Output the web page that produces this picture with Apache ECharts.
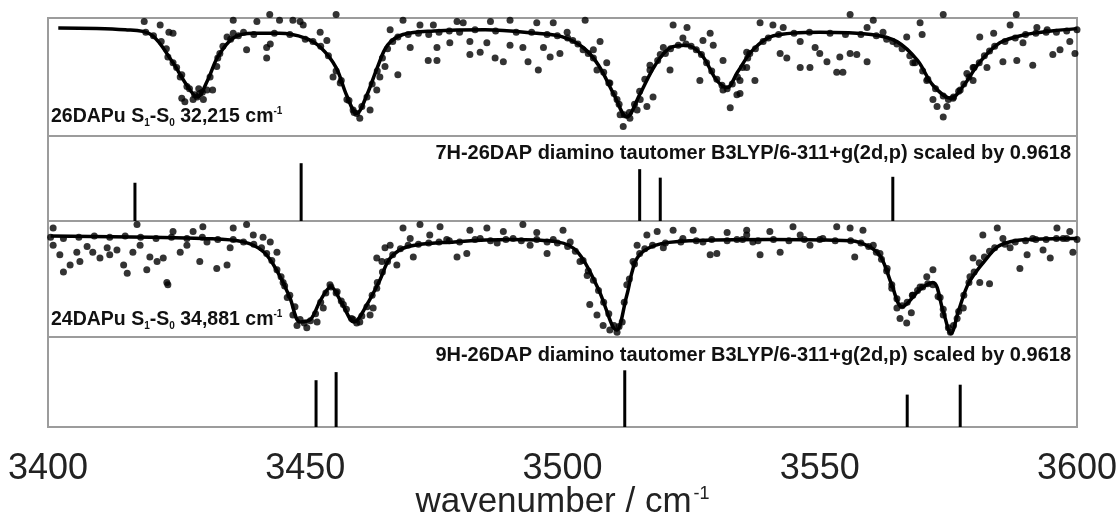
<!DOCTYPE html>
<html>
<head>
<meta charset="utf-8">
<script src="https://cdn.jsdelivr.net/npm/echarts@6/dist/echarts.min.js"></script>
<style>
  html, body { margin: 0; padding: 0; background: #fff; }
  #chart { width: 1117px; height: 519px; }
</style>
</head>
<body>
<div id="chart"></div>
<script>
// Shared wavenumber axis
const xTicks = [3400, 3450, 3500, 3550, 3600];

// 26DAPu spectrum: measured points [wavenumber, relative signal]
const dap26Points = [
  [3418.7,0.97],[3421.8,0.94],[3423.5,0.88],[3424.3,0.87],[3423.3,0.67],[3424.3,0.62],[3425.7,0.50],[3427,0.42],
  [3426,0.32],[3426.6,0.29],[3428.2,0.31],[3429.5,0.36],[3430.9,0.39],[3432,0.39],[3430.2,0.31],[3429.3,0.40],
  [3432.8,0.59],[3433.4,0.70],[3434.8,0.84],[3436,0.87],[3436,0.98],[3438.6,0.73],[3440.6,0.97],[3442.5,0.75],
  [3443.2,0.78],[3442.5,0.66],[3443.1,1.03],[3445,0.98],[3447.6,0.98],[3449,0.97],[3449.6,0.94],[3452.9,0.88],
  [3454.2,0.81],[3455.4,0.50],[3456.8,0.45],[3458.1,0.31],[3459.3,0.22],[3460.6,0.15],[3460,0.19],[3456,1.03],
  [3462.6,0.22],[3463.9,0.39],[3464.5,0.50],[3465.5,0.59],[3468,0.52],[3466.5,0.90],[3469,0.98],[3470.4,0.75],
  [3472.3,0.94],[3473.9,0.64],[3475.6,0.64],[3474.9,0.94],[3475.6,0.75],[3478.1,0.79],[3479.5,0.97],[3480.7,0.96],
  [3482,0.69],[3482,0.80],[3484,0.71],[3485.3,0.79],[3486,0.97],[3486.9,0.66],[3488.5,0.63],[3489.8,0.77],
  [3489.8,0.98],[3492.3,0.75],[3493.3,0.63],[3495,0.96],[3495.3,0.56],[3496.3,0.75],[3497.6,0.67],[3498.2,0.96],
  [3499.5,0.70],[3500.9,0.88],[3504.4,0.98],[3502,0.81],[3504,0.73],[3506,0.73],[3507.3,0.80],[3506.7,0.56],
  [3508.6,0.62],[3509.2,0.45],[3510.6,0.31],[3511.2,0.18],[3511.8,0.08],[3513.1,0.15],[3514.5,0.22],[3515.1,0.31],
  [3516.4,0.25],[3517.6,0.33],[3517,0.60],[3519,0.69],[3519.6,0.75],[3520.9,0.56],[3521.5,0.94],[3524.2,0.92],
  [3523.4,0.83],[3526.7,0.47],[3527.3,0.81],[3528.7,0.87],[3529.3,0.77],[3531.2,0.64],[3531.2,0.39],[3532.6,0.24],
  [3533.9,0.35],[3534.5,0.47],[3535.8,0.71],[3534.5,0.36],[3535.8,0.58],[3537.4,0.47],[3536.4,0.70],[3538.4,0.96],
  [3540.9,0.94],[3542.9,0.92],[3542.3,0.70],[3543.6,0.66],[3546.2,0.58],[3546.2,0.80],[3548.1,0.58],[3549.1,0.75],
  [3550,0.70],[3551.4,0.63],[3553.3,0.54],[3553.9,0.67],[3554.5,0.54],[3555.9,0.70],[3557.2,0.69],[3559.2,0.63],
  [3559.2,0.92],[3560.4,0.98],[3562.3,0.88],[3564.2,0.80],[3566.9,0.84],[3569.5,0.96],[3569.9,0.86],[3568.1,0.62],
  [3570.8,0.47],[3572,0.31],[3572.8,0.25],[3574,0.16],[3574.7,0.25],[3575.9,0.32],[3577.3,0.39],[3578.6,0.53],
  [3579.8,0.58],[3579.8,0.47],[3581.1,0.84],[3582.5,0.58],[3583.8,0.87],[3585.6,0.63],[3587,0.94],[3588.3,0.64],
  [3589.5,0.79],[3591.4,0.60],[3592.2,0.92],[3594.2,0.90],[3595.3,0.69],[3596.7,0.73],[3598.6,0.80],[3599.6,0.70],
  [3588.2,1.03],[3574,1.03],[3555.9,1.03],
  [3419,0.88],[3420.5,0.85],[3422,0.80],[3423,0.74],[3425,0.58],[3426,0.52],[3427.5,0.40],[3428.5,0.35],
  [3429,0.33],[3430,0.37],[3431.5,0.50],[3433,0.66],[3434,0.76],[3435.5,0.82],[3437,0.85],[3438,0.88],
  [3440,0.86],[3444,0.87],[3447,0.86],[3450,0.82],[3451.5,0.80],[3453,0.76],[3454.5,0.68],[3456,0.55],
  [3457,0.47],[3458.5,0.30],[3459.5,0.20],[3461,0.25],[3462,0.33],[3463,0.44],[3464,0.55],[3465,0.66],
  [3466,0.74],[3467,0.80],[3468,0.84],[3470,0.86],[3472,0.87],[3474,0.86],[3476,0.88],[3478,0.89],
  [3480,0.88],[3483,0.90],[3487,0.89],[3491,0.88],[3494,0.88],[3497,0.86],[3499,0.85],[3501,0.83],
  [3503,0.78],[3505,0.70],[3506,0.66],[3508,0.54],[3509,0.45],[3510,0.36],[3511,0.27],[3512,0.18],
  [3513,0.20],[3514,0.27],[3515,0.38],[3516,0.48],[3517,0.56],[3518.5,0.64],[3520,0.70],[3521,0.74],
  [3522.5,0.77],[3524,0.78],[3525,0.76],[3526,0.73],[3527,0.69],[3528,0.62],[3529,0.55],[3530,0.48],
  [3531,0.43],[3532,0.40],[3533,0.44],[3534,0.50],[3535,0.58],[3536,0.66],[3537.5,0.74],[3539,0.80],
  [3540,0.83],[3542,0.86],[3545,0.87],[3548,0.88],[3552,0.87],[3555,0.86],[3558,0.86],[3561,0.85],
  [3563,0.82],[3565,0.78],[3566,0.74],[3567.5,0.68],[3568.5,0.62],[3570,0.55],[3571,0.48],[3572.5,0.40],
  [3574,0.34],[3575,0.31],[3576,0.33],[3577,0.38],[3578,0.44],[3579,0.50],[3580,0.58],[3581,0.62],
  [3582,0.68],[3583,0.72],[3584,0.76],[3586,0.80],[3588,0.83],[3590,0.86],[3592,0.87],[3594,0.88],
  [3596,0.88],[3598,0.89],[3600,0.90]
];

// 26DAPu fitted profile
const dap26Fit = [
  [3402,0.915],[3415,0.90],[3420,0.86],[3424,0.64],[3427,0.43],[3429,0.33],[3431,0.47],[3433,0.67],
  [3436,0.83],[3440,0.87],[3445,0.87],[3450,0.83],[3453,0.75],[3456,0.58],[3458,0.35],[3460,0.19],
  [3462,0.35],[3464,0.58],[3466,0.77],[3469,0.86],[3475,0.89],[3485,0.90],[3495,0.87],[3500,0.84],
  [3504,0.75],[3507,0.60],[3510,0.35],[3512.5,0.16],[3515,0.35],[3518,0.60],[3521,0.75],[3524,0.77],
  [3527,0.69],[3530,0.47],[3532,0.41],[3534,0.54],[3537,0.73],[3541,0.85],[3550,0.88],[3560,0.86],
  [3565,0.80],[3569,0.64],[3572,0.43],[3575.5,0.32],[3578,0.43],[3581,0.62],[3585,0.79],[3590,0.86],
  [3595,0.89],[3600,0.91]
];

// 7H-26DAP computed lines [wavenumber, intensity]
const h7Sticks = [[3416.9,0.45],[3449.2,0.68],[3515.0,0.61],[3519.0,0.51],[3564.2,0.52]];

// 24DAPu spectrum: measured points [wavenumber, relative signal]
const dap24Points = [
  [3401,0.94],[3401,0.79],[3402.3,0.71],[3403,0.56],[3404.3,0.62],[3405.6,0.73],[3406.2,0.65],[3407.6,0.78],
  [3408.7,0.73],[3410.1,0.68],[3411.5,0.77],[3412,0.71],[3413.4,0.75],[3414.7,0.62],[3415.4,0.55],[3416.5,0.73],
  [3417.3,0.97],[3417.9,0.79],[3419.2,0.58],[3419.8,0.69],[3421.2,0.65],[3422.4,0.68],[3423.1,0.47],[3423.3,0.45],
  [3424.3,0.91],[3425.7,0.73],[3427,0.79],[3428.2,0.91],[3429.5,0.65],[3430.9,0.82],[3430.1,0.95],[3432.8,0.59],
  [3434.8,0.62],[3435.4,0.77],[3436,0.94],[3438.6,0.97],[3439.9,0.88],[3441.8,0.86],[3443.2,0.82],[3444.5,0.73],
  [3445.7,0.47],[3446.5,0.34],[3447.6,0.19],[3448.4,0.10],[3450.3,0.08],[3452.3,0.13],[3453.5,0.25],[3454.8,0.45],
  [3456.2,0.39],[3457.4,0.28],[3459.3,0.15],[3460.6,0.13],[3462.6,0.19],[3463.9,0.68],
  [3463.2,0.25],[3463.9,0.42],[3464.9,0.65],[3465.5,0.77],[3466.5,0.79],[3467.8,0.62],[3469,0.94],[3470.4,0.85],
  [3471,0.69],[3472.3,0.97],[3474.2,0.88],[3476.2,0.95],[3477.5,0.84],[3479.5,0.69],[3481.4,0.72],[3482,0.92],
  [3484,0.85],[3485.3,0.94],[3487.3,0.81],[3488.5,0.91],[3490.4,0.85],[3492.3,0.97],[3493.7,0.79],[3495,0.90],
  [3497,0.72],[3498.2,0.84],[3500.1,0.92],[3501.5,0.82],[3503.4,0.65],[3504.8,0.53],[3505.3,0.28],[3506.7,0.19],
  [3507.9,0.10],[3509.2,0.06],[3510.6,0.04],[3511.6,0.13],[3512.5,0.45],[3513.7,0.65],[3514.5,0.79],[3516.4,0.88],
  [3518.4,0.91],[3519.6,0.77],[3521.5,0.92],[3523.4,0.85],[3525.4,0.92],[3527.3,0.82],[3528.7,0.71],[3530,0.72],
  [3532,0.90],[3533.9,0.84],[3535.8,0.88],
  [3535.8,0.92],[3537,0.82],[3538.4,0.71],[3540.3,0.91],[3542.3,0.73],[3544.8,0.95],[3546.2,0.88],[3548.1,0.79],
  [3550.6,0.85],[3553.3,0.95],[3555.9,0.94],[3556.8,0.69],[3558.4,0.92],[3560.4,0.79],[3561.7,0.72],[3563.1,0.59],
  [3564,0.42],[3565,0.25],[3565.6,0.16],[3566.9,0.12],[3567.8,0.21],[3568.1,0.36],[3569.5,0.43],[3570.8,0.52],
  [3572,0.58],[3573.4,0.34],[3574,0.19],[3575.4,0.04],[3576.7,0.16],[3577.9,0.25],[3579.2,0.52],[3579.8,0.68],
  [3581.1,0.47],[3581.7,0.88],[3583,0.46],[3584.5,0.94],[3585.6,0.85],[3587,0.77],[3588.9,0.59],[3590.3,0.71],
  [3591.4,0.85],[3593.4,0.75],[3594.8,0.68],[3596.1,0.94],[3597.3,0.85],[3598.6,0.91],[3599.2,0.73],
  [3400.5,0.86],[3403,0.85],[3406,0.86],[3409,0.87],[3412,0.86],[3415,0.87],[3418,0.86],[3421,0.85],
  [3424,0.86],[3427,0.85],[3430,0.86],[3433,0.84],[3436,0.84],[3438,0.82],[3440,0.80],[3441.5,0.77],
  [3442.5,0.72],[3443.5,0.66],[3444.5,0.58],[3445.3,0.52],[3446,0.44],[3447,0.36],[3448,0.26],[3449,0.15],
  [3449.8,0.12],[3451,0.14],[3452,0.20],[3453,0.30],[3454,0.38],[3455,0.43],[3456,0.38],[3457,0.31],
  [3458,0.24],[3459,0.16],[3460,0.12],[3461,0.18],[3462,0.26],[3463,0.36],[3464,0.47],[3465,0.56],
  [3466,0.65],[3467,0.71],[3468.5,0.76],[3470,0.79],[3472,0.80],[3474,0.81],[3476,0.82],[3478,0.83],
  [3480,0.82],[3483,0.84],[3486,0.83],[3489,0.84],[3492,0.83],[3495,0.84],[3497,0.82],[3499,0.81],
  [3501,0.78],[3502.5,0.74],[3504,0.66],[3505,0.57],[3506,0.49],[3507,0.40],[3508,0.30],[3509,0.20],
  [3510,0.10],[3511,0.09],[3512,0.30],[3513,0.50],[3514,0.63],[3515,0.72],[3516,0.76],[3517.5,0.79],
  [3520,0.81],[3523,0.82],[3526,0.83],[3529,0.84],[3532,0.83],[3535,0.84],[3538,0.83],[3541,0.84],
  [3544,0.83],[3547,0.84],[3550,0.84],[3553,0.83],[3556,0.83],[3558,0.81],[3559.5,0.78],[3561,0.73],
  [3562,0.67],[3563,0.57],[3564,0.45],[3565,0.33],[3566,0.27],[3567,0.30],[3568,0.36],[3569,0.40],
  [3570,0.43],[3571,0.46],[3572,0.45],[3573,0.35],[3574,0.24],[3575,0.08],[3576,0.10],[3577,0.22],
  [3578,0.36],[3579,0.47],[3580,0.56],[3581,0.64],[3582,0.69],[3583,0.74],[3584,0.77],[3586,0.80],
  [3588,0.82],[3590,0.83],[3592,0.84],[3594,0.84],[3596,0.85],[3598,0.85],[3600,0.84]
];

// 24DAPu fitted profile
const dap24Fit = [
  [3400.5,0.87],[3420,0.86],[3430,0.85],[3438,0.82],[3442,0.73],[3445,0.53],[3447,0.34],[3449,0.13],
  [3451,0.15],[3453,0.32],[3455,0.43],[3457,0.30],[3459.5,0.13],[3462,0.28],[3464.5,0.49],[3466.5,0.68],
  [3470,0.78],[3479,0.82],[3490,0.84],[3499,0.82],[3503,0.73],[3507,0.41],[3510.5,0.06],[3512.5,0.36],
  [3514.5,0.68],[3518,0.79],[3525,0.83],[3540,0.84],[3556,0.83],[3560,0.77],[3562,0.68],[3564,0.45],
  [3566,0.26],[3569.5,0.41],[3572,0.47],[3574,0.22],[3575.5,0.03],[3577,0.23],[3579,0.47],[3582.5,0.68],
  [3585,0.79],[3590,0.84],[3600,0.85]
];

// 9H-26DAP computed lines [wavenumber, intensity]
const h9Sticks = [[3452.1,0.52],[3456.0,0.61],[3512.1,0.63],[3567.0,0.36],[3577.3,0.47]];

// Panel captions
const calcCaption7H = '7H-26DAP diamino tautomer B3LYP/6-311+g(2d,p) scaled by 0.9618';
const calcCaption9H = '9H-26DAP diamino tautomer B3LYP/6-311+g(2d,p) scaled by 0.9618';

const FONT = "'Liberation Sans', Arial, sans-serif";
const panels = [
  { top: 18, height: 118 },
  { top: 136, height: 85 },
  { top: 221, height: 116 },
  { top: 337, height: 90 }
];

const grids = panels.map(p => ({
  left: 48, right: 40, top: p.top, height: p.height,
  outerBoundsMode: 'none', containLabel: false,
  show: true, borderColor: '#9c9c9c', borderWidth: 2, backgroundColor: 'transparent'
}));

const xAxes = panels.map((p, i) => {
  const last = i === panels.length - 1;
  return {
    type: 'value', gridIndex: i, min: xTicks[0], max: xTicks[xTicks.length - 1],
    interval: xTicks[1] - xTicks[0],
    axisLine: { show: false }, axisTick: { show: false }, splitLine: { show: false },
    axisLabel: last ? { show: true, fontFamily: FONT, fontSize: 36, color: '#222', margin: 24,
                        formatter: v => String(v) } : { show: false },
    name: last ? '{a|wavenumber / cm}{s|-1}' : '',
    nameLocation: 'middle', nameGap: 55, nameMoveOverlap: false,
    nameTextStyle: {
      rich: {
        a: { fontFamily: FONT, fontSize: 35, color: '#222', lineHeight: 40 },
        s: { fontFamily: FONT, fontSize: 18, color: '#222', lineHeight: 40, padding: [0, 0, 16, 2] }
      }
    }
  };
});

const yAxes = panels.map((p, i) => ({
  type: 'value', gridIndex: i, min: 0, max: 1, show: false
}));

const captionRich = {
  b: { fontFamily: FONT, fontWeight: 'bold', fontSize: 19.5, color: '#111', lineHeight: 22 },
  sub: { fontFamily: FONT, fontWeight: 'bold', fontSize: 10, color: '#111', lineHeight: 22, padding: [13, 0, 0, 0] },
  sup: { fontFamily: FONT, fontWeight: 'bold', fontSize: 10, color: '#111', lineHeight: 22, padding: [0, 0, 11, 0] }
};

const option = {
  backgroundColor: '#fff',
  animation: false,
  title: [
    { text: '{b|26DAPu S}{sub|1}{b|-S}{sub|0}{b| 32,215 cm}{sup|-1}', left: 51, top: 106,
      textStyle: { rich: captionRich }, padding: 0 },
    { text: '{b|24DAPu S}{sub|1}{b|-S}{sub|0}{b| 34,881 cm}{sup|-1}', left: 51, top: 309,
      textStyle: { rich: captionRich }, padding: 0 },
    { text: calcCaption7H, right: 46, top: 143, padding: 0,
      textStyle: { fontFamily: FONT, fontWeight: 'bold', fontSize: 20, color: '#111' } },
    { text: calcCaption9H, right: 46, top: 345, padding: 0,
      textStyle: { fontFamily: FONT, fontWeight: 'bold', fontSize: 20, color: '#111' } }
  ],
  grid: grids,
  xAxis: xAxes,
  yAxis: yAxes,
  series: [
    { type: 'scatter', xAxisIndex: 0, yAxisIndex: 0, data: dap26Points, symbolSize: 7,
      itemStyle: { color: '#000' }, clip: false, silent: true },
    { type: 'line', xAxisIndex: 0, yAxisIndex: 0, data: dap26Fit, showSymbol: false, smooth: 0.35,
      lineStyle: { color: '#000', width: 3.5 }, silent: true },
    { type: 'bar', xAxisIndex: 1, yAxisIndex: 1, data: h7Sticks, barWidth: 3,
      itemStyle: { color: '#000' }, silent: true },
    { type: 'scatter', xAxisIndex: 2, yAxisIndex: 2, data: dap24Points, symbolSize: 7,
      itemStyle: { color: '#000' }, clip: false, silent: true },
    { type: 'line', xAxisIndex: 2, yAxisIndex: 2, data: dap24Fit, showSymbol: false, smooth: 0.35,
      lineStyle: { color: '#000', width: 3.5 }, silent: true },
    { type: 'bar', xAxisIndex: 3, yAxisIndex: 3, data: h9Sticks, barWidth: 3,
      itemStyle: { color: '#000' }, silent: true }
  ]
};

const chart = echarts.init(document.getElementById('chart'), null, { renderer: 'canvas' });
chart.setOption(option);
</script>
</body>
</html>
